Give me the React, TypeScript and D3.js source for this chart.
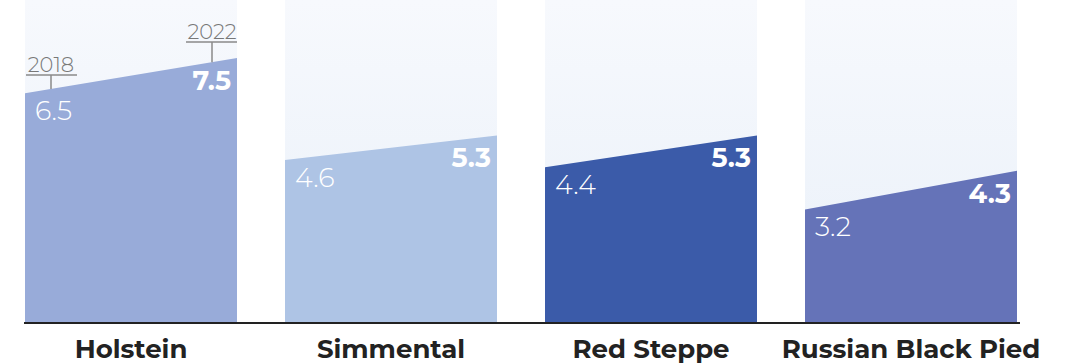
import React from "react";
import * as d3 from "d3";

const breeds = ["Holstein", "Simmental", "Red Steppe", "Russian Black Pied"];
const values2018 = [6.5, 4.6, 4.4, 3.2];
const values2022 = [7.5, 5.3, 5.3, 4.3];
const colors = ["#98abd9", "#aec4e5", "#3b5ba9", "#6573b8"];
const yearLabels = ["2018", "2022"];

const W = 1072;
const H = 364;
const baseY = 322;
const font = "Montserrat, 'Open Sans', 'Noto Sans', sans-serif";

export default function App() {
  const x = d3.scaleBand<string>().domain(breeds).range([25, 1017]).paddingInner(48 / 260).paddingOuter(0);
  const y = d3.scaleLinear().domain([0, 9.15]).range([baseY, 0]);
  const bw = x.bandwidth();

  return (
    <svg width={W} height={H} style={{ position: "absolute", left: 0, top: 0, display: "block" }}>
      <defs>
        <linearGradient id="bg" x1="0" y1="0" x2="0" y2="1">
          <stop offset="0" stopColor="#f7f9fd" />
          <stop offset="1" stopColor="#e9f0f9" />
        </linearGradient>
      </defs>
      {breeds.map((b, i) => {
        const x0 = x(b)!;
        const x1 = x0 + bw;
        const area = d3
          .area<[number, number]>()
          .x((d) => d[0])
          .y0(baseY)
          .y1((d) => y(d[1]));
        const pts: [number, number][] = [
          [x0, values2018[i]],
          [x1, values2022[i]],
        ];
        return (
          <g key={b}>
            <rect x={x0} y={y(9.15)} width={bw} height={baseY - y(9.15)} fill="url(#bg)" />
            <path d={area(pts)!} fill={colors[i]} />
            <text x={x0 + 10} y={y(values2018[i]) + 27} fill="#fff" fontSize={27} fontWeight={300} fontFamily={font}>
              {values2018[i].toFixed(1)}
            </text>
            <text x={x1 - 6} y={y(values2022[i]) + 32} fill="#fff" fontSize={27} fontWeight={700} fontFamily={font} textAnchor="end">
              {values2022[i].toFixed(1)}
            </text>
            <text x={x0 + bw / 2} y={358} fill="#222" fontSize={26} fontWeight={700} fontFamily={font} textAnchor="middle">
              {b}
            </text>
            {i === 0 && (
              <g stroke="#8a8a8a" strokeWidth={1.5} fill="none">
                <line x1={x0 + 1} x2={x0 + 52} y1={75} y2={75} />
                <line x1={x0 + 26} x2={x0 + 26} y1={75} y2={y(values2018[i] + (values2022[i] - values2018[i]) * (26 / bw)) } />
                <line x1={x1 - 51} x2={x1} y1={42} y2={42} />
                <line x1={x1 - 25} x2={x1 - 25} y1={42} y2={y(values2018[i] + (values2022[i] - values2018[i]) * ((bw - 25) / bw))} />
                <text x={x0 + 26} y={72} fill="#777" stroke="none" fontSize={21} fontWeight={300} fontFamily={font} textAnchor="middle">
                  {yearLabels[0]}
                </text>
                <text x={x1 - 25} y={39} fill="#777" stroke="none" fontSize={21} fontWeight={300} fontFamily={font} textAnchor="middle">
                  {yearLabels[1]}
                </text>
              </g>
            )}
          </g>
        );
      })}
      <line x1={24} x2={1020} y1={baseY + 1} y2={baseY + 1} stroke="#222" strokeWidth={2} />
    </svg>
  );
}
